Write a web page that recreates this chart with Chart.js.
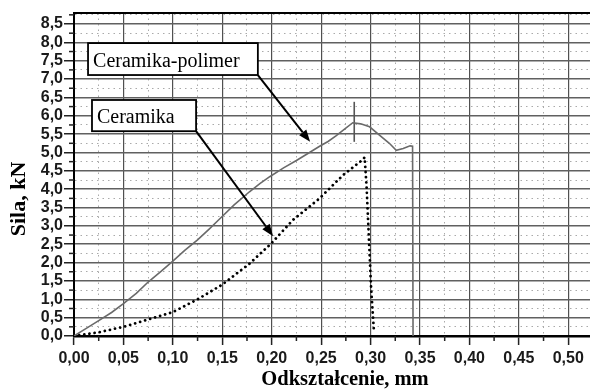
<!DOCTYPE html>
<html>
<head>
<meta charset="utf-8">
<script src="https://cdn.jsdelivr.net/npm/chart.js@4/dist/chart.umd.min.js"></script>
<style>
html,body{margin:0;padding:0;background:#fff;overflow:hidden;}
#wrap{width:590px;height:389px;position:relative;}
</style>
</head>
<body>
<div id="wrap"><canvas id="c" width="590" height="389"></canvas></div>
<script>
// ---- data ----
const polymerX = [0, 0.012, 0.025, 0.038, 0.05, 0.063, 0.075, 0.088, 0.10, 0.112, 0.125, 0.137, 0.147, 0.162, 0.1775, 0.188, 0.198, 0.212, 0.225, 0.237, 0.2485, 0.257, 0.265, 0.274, 0.282, 0.29, 0.299, 0.309, 0.319, 0.326, 0.333, 0.340, 0.3425, 0.343];
const polymerY = [0, 0.2, 0.42, 0.64, 0.88, 1.16, 1.47, 1.76, 2.04, 2.33, 2.62, 2.92, 3.18, 3.57, 3.93, 4.15, 4.34, 4.58, 4.78, 4.98, 5.17, 5.3, 5.45, 5.64, 5.81, 5.78, 5.70, 5.47, 5.25, 5.06, 5.11, 5.18, 5.17, 0];
const ceramicX = [0, 0.025, 0.05, 0.075, 0.10, 0.125, 0.15, 0.1775, 0.1995, 0.2214, 0.2485, 0.272, 0.2924, 0.294, 0.296, 0.2975, 0.299, 0.3005, 0.3035];
const ceramicY = [0, 0.1, 0.25, 0.45, 0.65, 1.0, 1.4, 1.97, 2.52, 3.16, 3.75, 4.38, 4.81, 4.87, 4.06, 3.16, 2.25, 1.34, 0.1];
const peakMarkX = [0.2835, 0.2835];
const peakMarkY = [5.29, 6.38];
const xTitle = 'Odkształcenie, mm';
const yTitle = 'Sila, kN';
const noteLabels = ['Ceramika-polimer', 'Ceramika'];
const xMin = 0, xMax = 0.522, xStep = 0.025, xMajor = 0.05;
const yMin = 0, yMax = 8.8, yStep = 0.25, yMajor = 0.5;

// ---- annotation placement (data coordinates) ----
const noteBoxes = [
  {x0: 0.0142, y0: 7.98, x1: 0.186, y1: 7.11, ax0: 0.186, ay0: 7.11, ax1: 0.2389, ay1: 5.29},
  {x0: 0.0182, y0: 6.43, x1: 0.1235, y1: 5.58, ax0: 0.1235, ay0: 5.58, ax1: 0.2014, ay1: 2.72}
];

const toPts = (xs, ys) => xs.map((v, i) => ({x: v, y: ys[i]}));
const isMajor = (v, m) => Math.abs(v / m - Math.round(v / m)) < 1e-6;

const extras = {
  id: 'extras',
  beforeDatasetsDraw(chart) {
    const ctx = chart.ctx, a = chart.chartArea;
    ctx.save();
    ctx.strokeStyle = '#000'; ctx.lineWidth = 2;
    ctx.beginPath(); ctx.moveTo(a.left - 1, a.top); ctx.lineTo(a.right, a.top); ctx.stroke();
    ctx.restore();
  },
  afterDraw(chart) {
    const ctx = chart.ctx, a = chart.chartArea, sx = chart.scales.x, sy = chart.scales.y;
    ctx.save();
    // minor ticks
    ctx.strokeStyle = '#222'; ctx.lineWidth = 1.5;
    sx.ticks.forEach(t => {
      if (!isMajor(t.value, xMajor)) {
        const p = sx.getPixelForValue(t.value);
        ctx.beginPath(); ctx.moveTo(p, a.bottom); ctx.lineTo(p, a.bottom + 5); ctx.stroke();
      }
    });
    sy.ticks.forEach(t => {
      if (!isMajor(t.value, yMajor)) {
        const p = sy.getPixelForValue(t.value);
        ctx.beginPath(); ctx.moveTo(a.left - 5, p); ctx.lineTo(a.left, p); ctx.stroke();
      }
    });
    // annotations
    noteBoxes.forEach((b, i) => {
      const L = sx.getPixelForValue(b.x0), T = sy.getPixelForValue(b.y0);
      const R = sx.getPixelForValue(b.x1), B = sy.getPixelForValue(b.y1);
      const X0 = sx.getPixelForValue(b.ax0), Y0 = sy.getPixelForValue(b.ay0);
      const X1 = sx.getPixelForValue(b.ax1), Y1 = sy.getPixelForValue(b.ay1);
      ctx.strokeStyle = '#000'; ctx.fillStyle = '#000'; ctx.lineWidth = 2;
      const ang = Math.atan2(Y1 - Y0, X1 - X0), hl = 12, hw = 4.5;
      const bx = X1 - hl * Math.cos(ang), by = Y1 - hl * Math.sin(ang);
      ctx.beginPath(); ctx.moveTo(X0, Y0); ctx.lineTo(bx, by); ctx.stroke();
      ctx.beginPath();
      ctx.moveTo(X1, Y1);
      ctx.lineTo(bx + hw * Math.sin(ang), by - hw * Math.cos(ang));
      ctx.lineTo(bx - hw * Math.sin(ang), by + hw * Math.cos(ang));
      ctx.closePath(); ctx.fill();
      ctx.fillStyle = '#fff';
      ctx.fillRect(L, T, R - L, B - T);
      ctx.lineWidth = 1.8; ctx.strokeStyle = '#000';
      ctx.strokeRect(L, T, R - L, B - T);
      ctx.fillStyle = '#000';
      ctx.font = '20px "Liberation Serif", "Times New Roman", serif';
      ctx.textBaseline = 'alphabetic'; ctx.textAlign = 'left';
      ctx.fillText(noteLabels[i], L + 5, B - 8);
    });
    // axis titles
    ctx.fillStyle = '#000';
    ctx.font = 'bold 20.5px "Liberation Serif", "Times New Roman", serif';
    ctx.textAlign = 'center'; ctx.textBaseline = 'middle';
    ctx.fillText(xTitle, 345, 380);
    ctx.font = 'bold 22px "Liberation Serif", "Times New Roman", serif';
    ctx.translate(19, 199); ctx.rotate(-Math.PI / 2);
    ctx.fillText(yTitle, 0, 0);
    ctx.restore();
  }
};

new Chart(document.getElementById('c'), {
  type: 'line',
  data: {
    datasets: [
      {label: 'Ceramika-polimer', data: toPts(polymerX, polymerY), borderColor: '#6a6a6a', borderWidth: 1.6, pointRadius: 0, tension: 0, fill: false},
      {label: 'Ceramika', data: toPts(ceramicX, ceramicY), borderColor: '#000', borderWidth: 2.8, borderDash: [0.01, 5.2], borderCapStyle: 'round', pointRadius: 0, tension: 0, fill: false},
      {label: 'peak', data: toPts(peakMarkX, peakMarkY), borderColor: '#555', borderWidth: 1.6, pointRadius: 0, fill: false}
    ]
  },
  options: {
    responsive: false,
    animation: false,
    layout: {padding: {left: 0, right: 0, top: 13, bottom: 0}},
    plugins: {legend: {display: false}, tooltip: {enabled: false}},
    scales: {
      x: {
        type: 'linear', min: xMin, max: xMax,
        afterFit: s => { s.height = 53; },
        border: {display: true, color: '#000', width: 2.5,
          dash: ctx => (ctx.tick && !isMajor(ctx.tick.value, xMajor)) ? [1.5, 4] : []},
        grid: {
          color: ctx => (ctx.tick && isMajor(ctx.tick.value, xMajor)) ? '#505050' : '#aaa',
          lineWidth: ctx => (ctx.tick && isMajor(ctx.tick.value, xMajor)) ? 1.2 : 1,
          tickColor: ctx => (ctx.tick && isMajor(ctx.tick.value, xMajor)) ? '#222' : 'rgba(0,0,0,0)',
          tickLength: 9, tickWidth: 1.5
        },
        ticks: {
          stepSize: xStep, includeBounds: false, autoSkip: false, maxRotation: 0, padding: 4,
          color: '#1a1a1a', font: {family: '"Liberation Sans", Arial, sans-serif', size: 16, weight: 'bold'},
          callback: v => isMajor(v, xMajor) ? v.toFixed(2).replace('.', ',') : ''
        }
      },
      y: {
        type: 'linear', min: yMin, max: yMax,
        afterFit: s => { s.width = 74; },
        border: {display: true, color: '#000', width: 2,
          dash: ctx => (ctx.tick && !isMajor(ctx.tick.value, yMajor)) ? [1.5, 4] : []},
        grid: {
          color: ctx => (ctx.tick && isMajor(ctx.tick.value, yMajor)) ? '#606060' : '#aaa',
          lineWidth: ctx => (ctx.tick && isMajor(ctx.tick.value, yMajor)) ? 1.5 : 1,
          tickColor: ctx => (ctx.tick && isMajor(ctx.tick.value, yMajor)) ? '#222' : 'rgba(0,0,0,0)',
          tickLength: 10, tickWidth: 1.5
        },
        ticks: {
          stepSize: yStep, includeBounds: false, autoSkip: false, padding: 1,
          color: '#1a1a1a', font: {family: '"Liberation Sans", Arial, sans-serif', size: 16, weight: 'bold'},
          callback: v => isMajor(v, yMajor) ? v.toFixed(1).replace('.', ',') : ''
        }
      }
    }
  },
  plugins: [extras]
});
</script>
</body>
</html>
